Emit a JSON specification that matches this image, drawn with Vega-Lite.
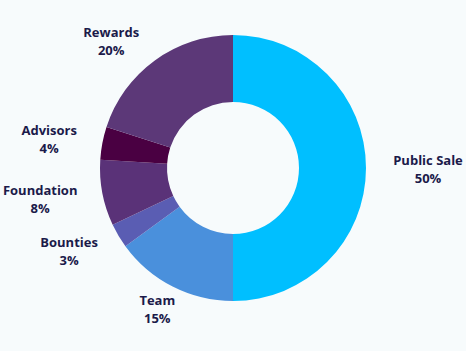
{
  "$schema": "https://vega.github.io/schema/vega-lite/v6.json",
  "width": 466,
  "height": 351,
  "autosize": {"type": "fit", "contains": "padding"},
  "padding": {"top": 0, "bottom": 15, "left": 0, "right": 0},
  "background": "#F7FBFC",
  "view": {"stroke": null},
  "data": {
    "values": [
      {"name": "Public Sale", "pct": 50, "label": "50%", "rank": 1},
      {"name": "Team", "pct": 15, "label": "15%", "rank": 2},
      {"name": "Bounties", "pct": 3, "label": "3%", "rank": 3},
      {"name": "Foundation", "pct": 8, "label": "8%", "rank": 4},
      {"name": "Advisors", "pct": 4, "label": "4%", "rank": 5},
      {"name": "Rewards", "pct": 20, "label": "20%", "rank": 6}
    ]
  },
  "transform": [
    {"stack": "pct", "groupby": [], "sort": [{"field": "rank"}], "as": ["s0", "s1"]},
    {"calculate": "(datum.s0 + datum.s1) / 2", "as": "mid"},
    {"calculate": "datum.name + '\\n' + datum.label", "as": "txt"}
  ],
  "layer": [
    {
      "mark": {"type": "arc", "outerRadius": 133, "innerRadius": 66},
      "encoding": {
        "theta": {"field": "s0", "type": "quantitative", "scale": {"domain": [0, 100]}},
        "theta2": {"field": "s1"},
        "color": {
          "field": "name",
          "type": "nominal",
          "legend": null,
          "scale": {
            "domain": ["Public Sale", "Team", "Bounties", "Foundation", "Advisors", "Rewards"],
            "range": ["#00BFFF", "#4A90DC", "#5A5DB3", "#5A3278", "#4A0042", "#5C3878"]
          }
        }
      }
    },
    {
      "transform": [{"filter": "datum.name == 'Public Sale'"}],
      "mark": {"type": "text", "radius": 180, "dx": 15, "dy": -7, "lineBreak": "\n", "lineHeight": 18, "font": "Open Sans", "fontWeight": "bold", "fontSize": 13, "color": "#1B1A4A"},
      "encoding": {"theta": {"field": "mid", "type": "quantitative"}, "text": {"field": "txt"}}
    },
    {
      "transform": [{"filter": "datum.name == 'Team'"}],
      "mark": {"type": "text", "radius": 180, "dx": 6, "dy": -27, "lineBreak": "\n", "lineHeight": 18, "font": "Open Sans", "fontWeight": "bold", "fontSize": 13, "color": "#1B1A4A"},
      "encoding": {"theta": {"field": "mid", "type": "quantitative"}, "text": {"field": "txt"}}
    },
    {
      "transform": [{"filter": "datum.name == 'Bounties'"}],
      "mark": {"type": "text", "radius": 180, "dx": -9, "dy": -17, "lineBreak": "\n", "lineHeight": 18, "font": "Open Sans", "fontWeight": "bold", "fontSize": 13, "color": "#1B1A4A"},
      "encoding": {"theta": {"field": "mid", "type": "quantitative"}, "text": {"field": "txt"}}
    },
    {
      "transform": [{"filter": "datum.name == 'Foundation'"}],
      "mark": {"type": "text", "radius": 180, "dx": -16, "dy": -11, "lineBreak": "\n", "lineHeight": 18, "font": "Open Sans", "fontWeight": "bold", "fontSize": 13, "color": "#1B1A4A"},
      "encoding": {"theta": {"field": "mid", "type": "quantitative"}, "text": {"field": "txt"}}
    },
    {
      "transform": [{"filter": "datum.name == 'Advisors'"}],
      "mark": {"type": "text", "radius": 180, "dx": -7, "dy": -3, "lineBreak": "\n", "lineHeight": 18, "font": "Open Sans", "fontWeight": "bold", "fontSize": 13, "color": "#1B1A4A"},
      "encoding": {"theta": {"field": "mid", "type": "quantitative"}, "text": {"field": "txt"}}
    },
    {
      "transform": [{"filter": "datum.name == 'Rewards'"}],
      "mark": {"type": "text", "radius": 180, "dx": -16, "dy": 11, "lineBreak": "\n", "lineHeight": 18, "font": "Open Sans", "fontWeight": "bold", "fontSize": 13, "color": "#1B1A4A"},
      "encoding": {"theta": {"field": "mid", "type": "quantitative"}, "text": {"field": "txt"}}
    }
  ]
}
